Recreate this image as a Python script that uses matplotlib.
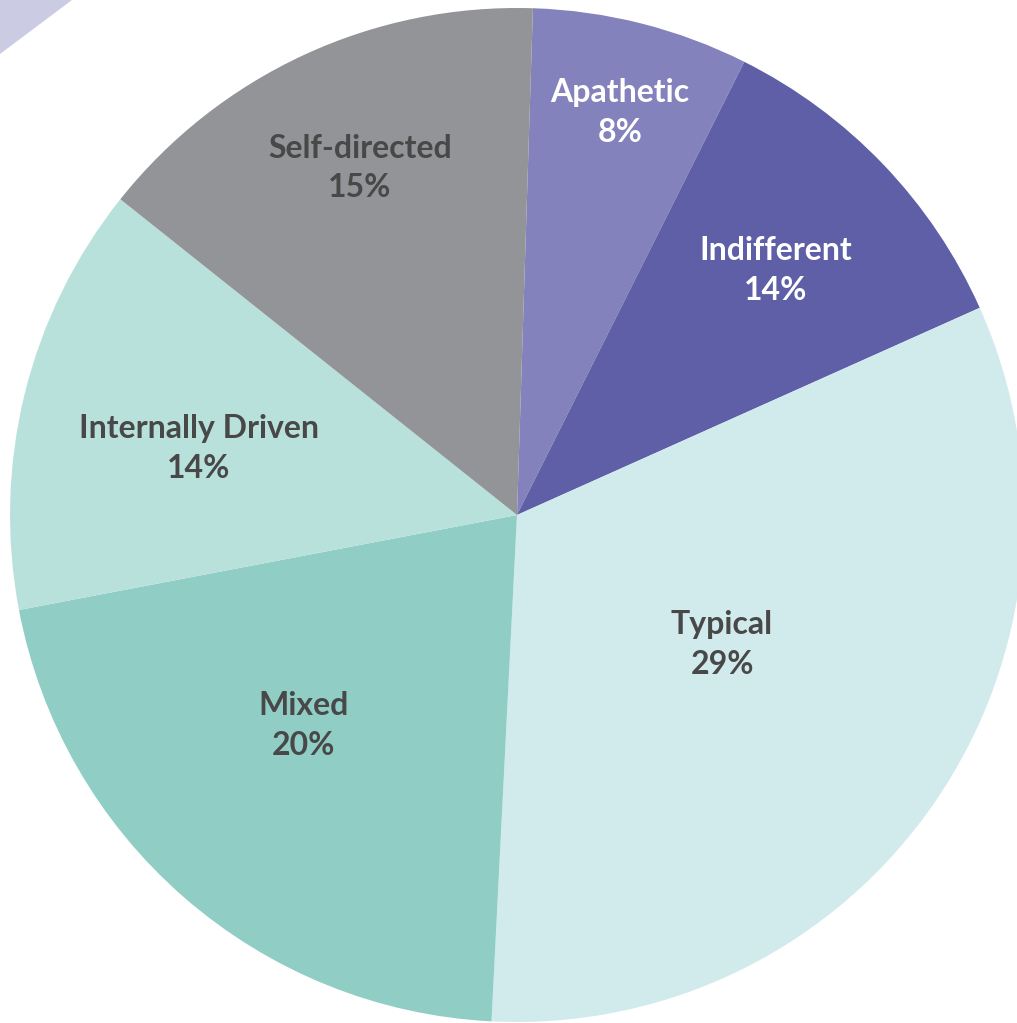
import numpy as np
import matplotlib
matplotlib.use("Agg")
import matplotlib.pyplot as plt
from matplotlib.patches import Polygon

# segments, clockwise from the top
segments = ["Apathetic", "Indifferent", "Typical", "Mixed", "Internally Driven", "Self-directed"]
pct_labels = ["8%", "14%", "29%", "20%", "14%", "15%"]
# wedge sizes as drawn in the picture (they do not quite match the printed labels)
wedge_sizes = [6.9, 10.9, 32.5, 21.2, 13.7, 14.8]

colors = ["#8382bc", "#5e5fa7", "#d1ebed", "#90cec5", "#b9e1dc", "#939497"]
text_colors = ["white", "white", "#484848", "#484848", "#484848", "#484848"]
# label placement: fraction of radius and angular nudge (deg)
label_r = [0.819, 0.703, 0.478, 0.591, 0.641, 0.751]
label_dang = [-0.15, -0.35, 2.15, -4.4, 2.1, -0.5]

fig = plt.figure(figsize=(10.17, 10.23), dpi=100)
ax = fig.add_axes([0, 0, 1, 1])

# lavender corner decoration
ax.add_patch(Polygon([(0, 1023), (72, 1023), (0, 969)], closed=True,
                     facecolor="#cbcbe3", edgecolor="none"))

cx, cy, R = 517, 508, 507
wedges, _ = ax.pie(wedge_sizes, colors=colors, startangle=88.2, counterclock=False,
                   center=(cx, cy), radius=R, frame=True,
                   wedgeprops=dict(linewidth=0))
ax.set_xlim(0, 1017)
ax.set_ylim(0, 1023)
ax.set_aspect("equal")
ax.axis("off")

for w, name, pct, tc, r, da in zip(wedges, segments, pct_labels, text_colors, label_r, label_dang):
    mid = np.deg2rad((w.theta1 + w.theta2) / 2 + da)
    x = cx + r * R * np.cos(mid)
    y = cy + r * R * np.sin(mid)
    ax.text(x, y, name + "\n" + pct, ha="center", va="center", color=tc,
            fontsize=23, fontweight="bold", family="Lato", linespacing=1.45)

fig.savefig("out.png", dpi=100)
